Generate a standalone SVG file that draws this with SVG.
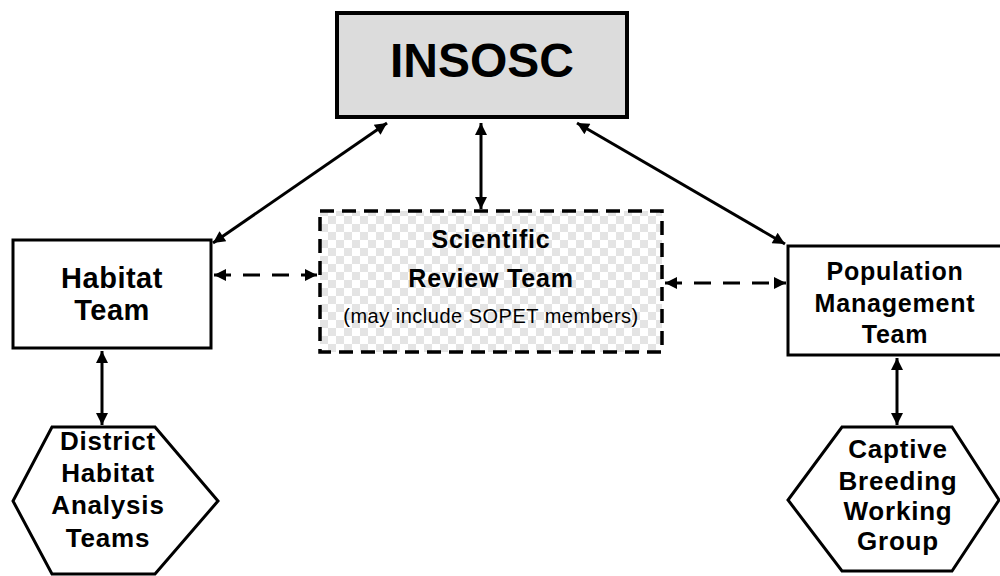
<svg xmlns="http://www.w3.org/2000/svg" width="1000" height="576" viewBox="0 0 1000 576">
<style>
text{font-family:"Liberation Sans",Arial,sans-serif;font-weight:bold;fill:#000;text-anchor:middle}
.box{stroke:#000;stroke-width:3;fill:#fff}
.con{stroke:#000;stroke-width:3;fill:none}
.dash{stroke-dasharray:17 12}
</style>
<defs>
<pattern id="chk" width="16" height="16" patternUnits="userSpaceOnUse">
<rect width="16" height="16" fill="#fff"/>
<rect width="8" height="8" fill="#e4e4e4"/>
<rect x="8" y="8" width="8" height="8" fill="#e4e4e4"/>
</pattern>
<marker id="ah" viewBox="0 0 10 10" refX="10" refY="5" markerWidth="4.6" markerHeight="4" orient="auto-start-reverse" markerUnits="strokeWidth">
<path d="M0,0 L10,5 L0,10 z" fill="#000"/>
</marker>
</defs>
<rect width="1000" height="576" fill="#fff"/>
<g id="connectors">
<line class="con" x1="387" y1="123" x2="213" y2="243" marker-start="url(#ah)" marker-end="url(#ah)"/>
<line class="con" x1="481" y1="123" x2="481" y2="209" marker-start="url(#ah)" marker-end="url(#ah)"/>
<line class="con" x1="577" y1="123" x2="785" y2="244" marker-start="url(#ah)" marker-end="url(#ah)"/>
<line class="con dash" x1="214" y1="275" x2="317" y2="275" marker-start="url(#ah)" marker-end="url(#ah)"/>
<line class="con dash" x1="665" y1="283" x2="786" y2="283" marker-start="url(#ah)" marker-end="url(#ah)"/>
<line class="con" x1="102" y1="351" x2="102" y2="425" marker-start="url(#ah)" marker-end="url(#ah)"/>
<line class="con" x1="897" y1="358" x2="897" y2="425" marker-start="url(#ah)" marker-end="url(#ah)"/>
</g>
<g id="insosc">
<rect x="337" y="13" width="290" height="104" fill="#dcdcdc" stroke="#000" stroke-width="4"/>
<text x="482" y="77" font-size="48">INSOSC</text>
</g>
<g id="review">
<rect x="320" y="211" width="342" height="141" fill="url(#chk)" stroke="#000" stroke-width="3.5" stroke-dasharray="14 8"/>
<text x="491" y="248" font-size="25" letter-spacing="0.8">Scientific</text>
<text x="491" y="287" font-size="25" letter-spacing="0.8">Review Team</text>
<text x="491" y="323" font-size="20" style="font-weight:normal" letter-spacing="0.5">(may include SOPET members)</text>
</g>
<g id="habitat">
<rect class="box" x="13" y="240" width="198" height="108"/>
<text x="112" y="288" font-size="29" letter-spacing="0.5">Habitat</text>
<text x="112" y="320" font-size="29" letter-spacing="0.5">Team</text>
</g>
<g id="population">
<rect class="box" x="788" y="246" width="220" height="109"/>
<text x="895" y="280" font-size="25" letter-spacing="0.8">Population</text>
<text x="895" y="312" font-size="25" letter-spacing="0.8">Management</text>
<text x="895" y="343" font-size="25" letter-spacing="0.8">Team</text>
</g>
<g id="district">
<polygon class="box" points="52,427 155,427 218,501 155,574 52,574 13,501"/>
<text x="108" y="450" font-size="26" letter-spacing="0.8">District</text>
<text x="108" y="482" font-size="26" letter-spacing="0.8">Habitat</text>
<text x="108" y="514" font-size="26" letter-spacing="0.8">Analysis</text>
<text x="108" y="547" font-size="26" letter-spacing="0.8">Teams</text>
</g>
<g id="captive">
<polygon class="box" points="842,427 952,427 999,500 952,571 842,571 788,500"/>
<text x="898" y="458" font-size="26" letter-spacing="0.8">Captive</text>
<text x="898" y="490" font-size="26" letter-spacing="0.8">Breeding</text>
<text x="898" y="520" font-size="26" letter-spacing="0.8">Working</text>
<text x="898" y="550" font-size="26" letter-spacing="0.8">Group</text>
</g>
</svg>
